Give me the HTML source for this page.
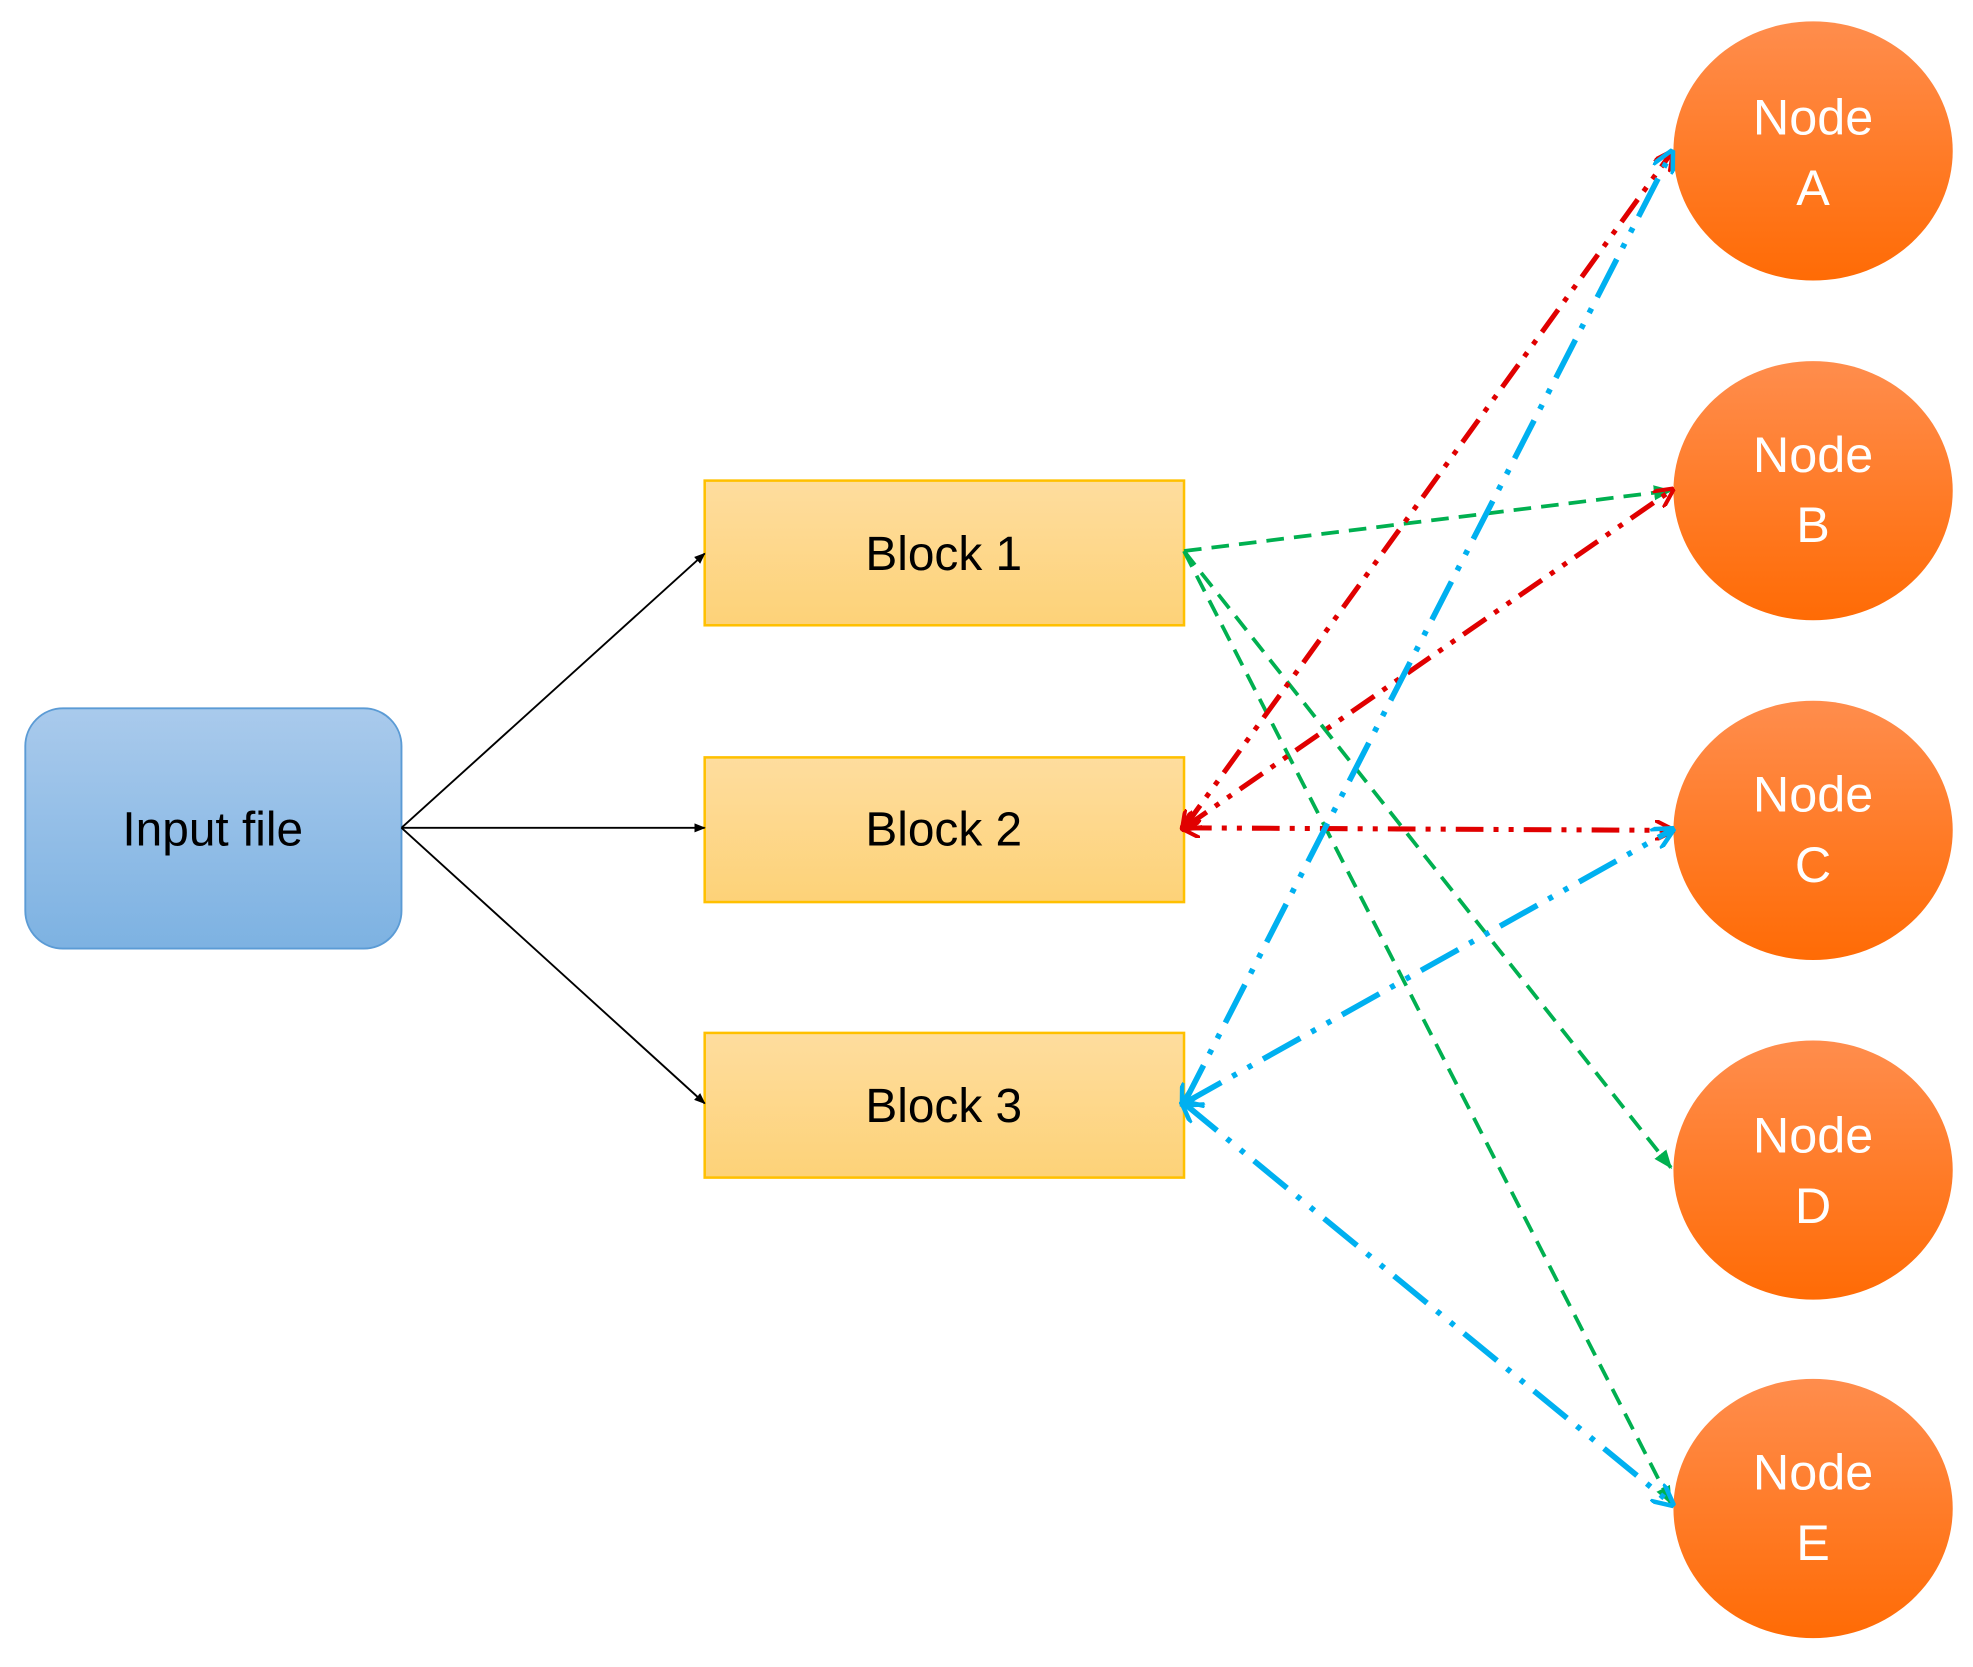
<!DOCTYPE html>
<html><head><meta charset="utf-8"><style>html,body{margin:0;padding:0;background:#fff}svg{display:block}</style></head>
<body>
<svg width="1973" height="1667" viewBox="0 0 1568 1325" xmlns="http://www.w3.org/2000/svg" font-family="Liberation Sans, sans-serif">
<defs>
<linearGradient id="gb" x1="0" y1="0" x2="0" y2="1"><stop offset="0" stop-color="#a9caec"/><stop offset="1" stop-color="#7db2e2"/></linearGradient>
<linearGradient id="gy" x1="0" y1="0" x2="0" y2="1"><stop offset="0" stop-color="#fedd9e"/><stop offset="1" stop-color="#fdd278"/></linearGradient>
<linearGradient id="go" x1="0" y1="0" x2="0" y2="1"><stop offset="0" stop-color="#ff8d4d"/><stop offset="1" stop-color="#ff6b05"/></linearGradient>
<marker id="mk" viewBox="0 0 10 10" refX="9" refY="5" markerWidth="6" markerHeight="6" orient="auto-start-reverse"><path d="M0,1 L10,5 L0,9z" fill="#000"/></marker>
<marker id="mg" viewBox="0 0 10 10" refX="9" refY="5" markerWidth="5" markerHeight="5" orient="auto-start-reverse"><path d="M0,1 L10,5 L0,9z" fill="#00b050"/></marker>
<marker id="mr" viewBox="0 0 10 10" refX="8" refY="5" markerWidth="4" markerHeight="4" orient="auto-start-reverse"><path d="M0,0 L10,5 L0,10" fill="none" stroke="#e00000" stroke-width="2"/></marker>
<marker id="mb" viewBox="0 0 10 10" refX="8" refY="5" markerWidth="4" markerHeight="4" orient="auto-start-reverse"><path d="M0,0 L10,5 L0,10" fill="none" stroke="#00b0f0" stroke-width="2"/></marker>
</defs>
<rect x="20" y="563" width="299" height="191" rx="30" fill="url(#gb)" stroke="#5b9bd5" stroke-width="1.5"/>
<text x="169" y="672" font-size="38" text-anchor="middle" fill="#000">Input file</text>
<g fill="url(#gy)" stroke="#ffc000" stroke-width="2">
<rect x="560" y="382" width="381" height="115"/><rect x="560" y="602" width="381" height="115"/><rect x="560" y="821" width="381" height="115"/>
</g>
<g font-size="38" text-anchor="middle" fill="#000">
<text x="750" y="453">Block 1</text><text x="750" y="672">Block 2</text><text x="750" y="892">Block 3</text>
</g>
<g fill="url(#go)">
<ellipse cx="1441" cy="120" rx="111" ry="103"/><ellipse cx="1441" cy="390" rx="111" ry="103"/><ellipse cx="1441" cy="660" rx="111" ry="103"/><ellipse cx="1441" cy="930" rx="111" ry="103"/><ellipse cx="1441" cy="1199" rx="111" ry="103"/>
</g>
<g font-size="40" text-anchor="middle" fill="#fff">
<text x="1441" y="107">Node</text><text x="1441" y="163">A</text>
<text x="1441" y="375">Node</text><text x="1441" y="431">B</text>
<text x="1441" y="645">Node</text><text x="1441" y="701">C</text>
<text x="1441" y="916">Node</text><text x="1441" y="972">D</text>
<text x="1441" y="1184">Node</text><text x="1441" y="1240">E</text>
</g>
<g stroke="#000" stroke-width="1.5" marker-end="url(#mk)">
<line x1="319" y1="658" x2="560" y2="440"/><line x1="319" y1="658" x2="560" y2="658"/><line x1="319" y1="658" x2="560" y2="877"/>
</g>
<g stroke="#00b050" stroke-width="3" stroke-dasharray="14,8" marker-end="url(#mg)">
<line x1="941" y1="438" x2="1328" y2="390"/><line x1="941" y1="438" x2="1328" y2="928"/><line x1="941" y1="438" x2="1328" y2="1195"/>
</g>
<g stroke="#e00000" stroke-width="4" stroke-dasharray="22,8,4,8,4,8" fill="none">
<line x1="941" y1="658" x2="1328" y2="122" marker-start="url(#mr)" marker-end="url(#mr)"/>
<line x1="941" y1="658" x2="1328" y2="390" marker-start="url(#mr)" marker-end="url(#mr)"/>
<line x1="941" y1="658" x2="1328" y2="660" marker-start="url(#mr)" marker-end="url(#mr)"/>
</g>
<g stroke="#00b0f0" stroke-width="4.5" stroke-dasharray="34,10,4,10,4,10" fill="none">
<line x1="941" y1="877" x2="1328" y2="122" marker-start="url(#mb)" marker-end="url(#mb)"/>
<line x1="941" y1="877" x2="1328" y2="660" marker-start="url(#mb)" marker-end="url(#mb)"/>
<line x1="941" y1="877" x2="1328" y2="1195" marker-start="url(#mb)" marker-end="url(#mb)"/>
</g>
</svg>
</body></html>
